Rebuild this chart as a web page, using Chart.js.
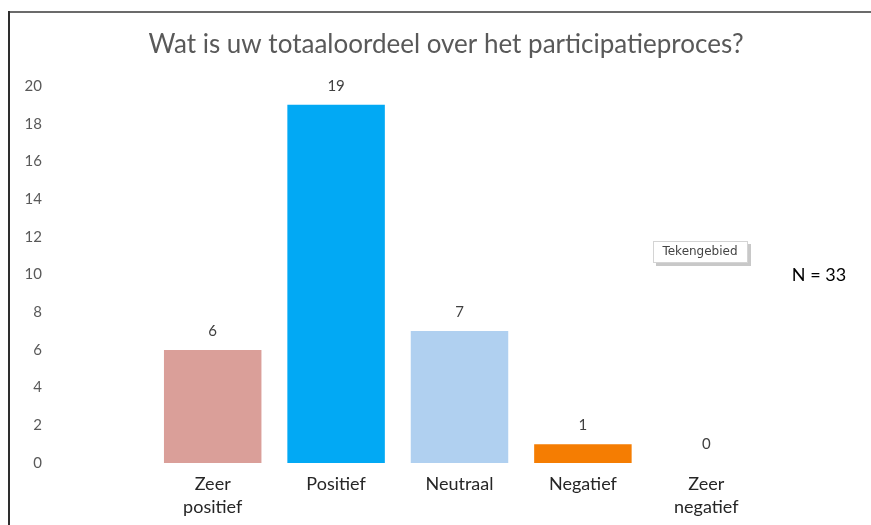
<!DOCTYPE html>
<html lang="nl">

<head>
  <meta charset="UTF-8" />
  <title>Totaaloordeel participatieproces</title>
  <script src="https://cdn.jsdelivr.net/npm/chart.js"></script>
  <style>
    html, body {
      margin: 0;
      padding: 0;
      background: #ffffff;
    }

    #wrap {
      position: relative;
      width: 871px;
      height: 525px;
    }
  </style>
</head>

<body>
  <div id="wrap">
    <canvas id="oordeelChart" width="871" height="525"></canvas>
  </div>

  <script>
    // Data
    const categories = [["Zeer", "positief"], "Positief", "Neutraal", "Negatief", ["Zeer", "negatief"]];
    const counts = [6, 19, 7, 1, 0];
    const barColors = ["#DA9F99", "#02A9F4", "#B0D0F0", "#F57D02", "#BFBFBF"];
    const yTicks = [0, 2, 4, 6, 8, 10, 12, 14, 16, 18, 20];
    const titleText = "Wat is uw totaaloordeel over het participatieproces?";
    const noteText = "N = 33";
    const hintText = "Tekengebied";

    const FONT = "Lato, 'Open Sans', sans-serif";

    // frame, title, value labels and the extra notes
    const extras = {
      id: "extras",
      beforeDraw(chart) {
        const c = chart.ctx;
        c.save();
        c.fillStyle = "#ffffff";
        c.fillRect(0, 0, chart.width, chart.height);
        c.strokeStyle = "#6b6b6b";
        c.lineWidth = 2;
        c.beginPath();
        c.moveTo(871, 12);
        c.lineTo(9, 12);
        c.stroke();
        c.strokeStyle = "#2e2e2e";
        c.beginPath();
        c.moveTo(9, 11);
        c.lineTo(9, 525);
        c.stroke();
        c.restore();
      },
      afterDraw(chart) {
        const c = chart.ctx;
        c.save();
        c.fillStyle = "#595959";
        c.font = "26px " + FONT;
        c.textAlign = "center";
        c.textBaseline = "middle";
        c.fillText(titleText, 446, 45);

        // value labels
        const meta = chart.getDatasetMeta(0);
        c.font = "15px " + FONT;
        c.fillStyle = "#404040";
        meta.data.forEach((bar, i) => {
          c.fillText(String(counts[i]), bar.x, bar.y - 19);
        });

        c.fillStyle = "#000000";
        c.font = "18px " + FONT;
        c.fillText(noteText, 819, 275);

        // "Tekengebied" hint box
        c.fillStyle = "#c8c8c8";
        c.fillRect(656, 244, 95, 22);
        c.fillStyle = "#ffffff";
        c.fillRect(653, 241, 95, 22);
        c.strokeStyle = "#d4d4d4";
        c.lineWidth = 1;
        c.strokeRect(653.5, 241.5, 94, 21);
        c.fillStyle = "#444444";
        c.font = "12px 'DejaVu Sans', sans-serif";
        c.fillText(hintText, 700, 252);
        c.restore();
      }
    };

    new Chart(document.getElementById("oordeelChart").getContext("2d"), {
      type: "bar",
      data: {
        labels: categories,
        datasets: [{
          data: counts,
          backgroundColor: barColors,
          borderWidth: 0,
          barPercentage: 0.79,
          categoryPercentage: 1
        }]
      },
      options: {
        responsive: false,
        animation: false,
        events: [],
        layout: { padding: { left: 0, right: 103, top: 86, bottom: 0 } },
        plugins: {
          legend: { display: false },
          title: { display: false },
          tooltip: { enabled: false }
        },
        scales: {
          x: {
            grid: { display: false, drawTicks: false },
            border: { display: false },
            ticks: {
              color: "#262626",
              font: { family: FONT, size: 18, lineHeight: 1.3 },
              padding: 9,
              maxRotation: 0
            },
            afterFit: s => { s.height = 62; }
          },
          y: {
            min: 0,
            max: 20,
            grid: { display: false, drawTicks: false },
            border: { display: false },
            afterBuildTicks: s => { s.ticks = yTicks.map(v => ({ value: v })); },
            ticks: {
              color: "#595959",
              font: { family: FONT, size: 15 },
              padding: 109
            },
            // keep the wide label gap from pushing the plot area in vertically
            afterFit: s => { s.width = 151; s.paddingTop = 0; s.paddingBottom = 0; }
          }
        }
      },
      plugins: [extras]
    });
  </script>
</body>

</html>
